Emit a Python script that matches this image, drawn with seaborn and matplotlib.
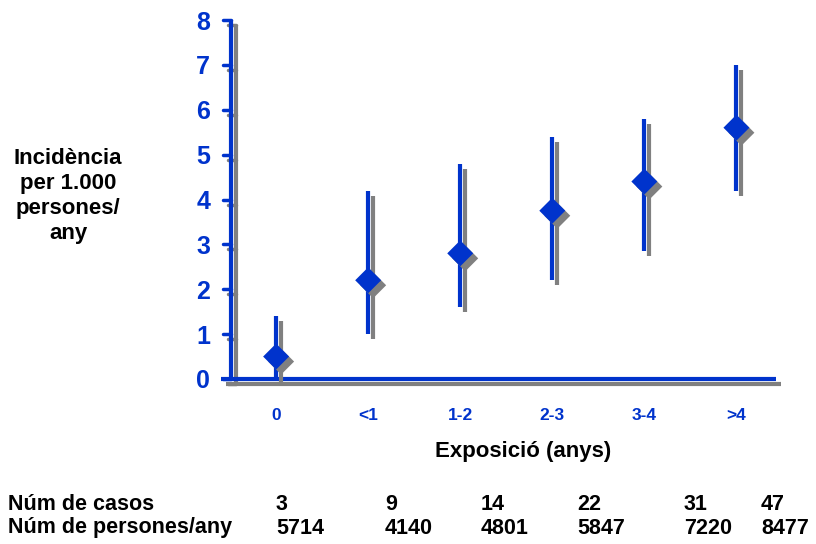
import matplotlib
matplotlib.use("Agg")
import matplotlib.pyplot as plt
import matplotlib.transforms as mtransforms
import seaborn as sns
import pandas as pd

# data
exposure = ["0", "<1", "1-2", "2-3", "3-4", ">4"]
incidence = [0.5, 2.2, 2.8, 3.75, 4.4, 5.6]
ci_low = [0.0, 1.0, 1.6, 2.2, 2.85, 4.2]
ci_high = [1.4, 4.2, 4.8, 5.4, 5.8, 7.0]
n_cases = [3, 9, 14, 22, 31, 47]
n_person_years = [5714, 4140, 4801, 5847, 7220, 8477]

BLUE = "#0033CC"
GRAY = "#808080"

sns.set_style("white")
plt.rcParams["font.family"] = ["Liberation Sans", "DejaVu Sans"]
plt.rcParams["text.color"] = "black"

df = pd.DataFrame({"pos": range(len(exposure)), "inc": incidence,
                   "lo": ci_low, "hi": ci_high})

fig = plt.figure(figsize=(8.16, 5.44), dpi=100)
ax = fig.add_axes([231 / 816, 1 - 379 / 544, (776 - 231) / 816, (379 - 20) / 544])
ax.set_xlim(-0.49, 5.43)
ax.set_ylim(0, 8)

# shadow offset (a few px right/down)
shadow = ax.transData + mtransforms.ScaledTranslation(3.6 / 72, -3.6 / 72, fig.dpi_scale_trans)
shadow_ax = ax.transAxes + mtransforms.ScaledTranslation(3.6 / 72, -3.6 / 72, fig.dpi_scale_trans)

for ax_tr, col in [(shadow_ax, GRAY), (ax.transAxes, BLUE)]:
    ax.plot([0, 0], [0, 1], color=col, lw=3, transform=ax_tr, clip_on=False, solid_capstyle="butt")
    ax.plot([-0.018, 1], [0, 0], color=col, lw=3, transform=ax_tr, clip_on=False, solid_capstyle="butt")
    for t in range(9):
        ax.plot([-0.014, 0], [t / 8, t / 8], color=col, lw=2.5, transform=ax_tr, clip_on=False)

# confidence intervals + point estimates, shadow first
for tr, col in [(shadow, GRAY), (ax.transData, BLUE)]:
    ax.vlines(df["pos"], df["lo"], df["hi"], color=col, lw=3, transform=tr, clip_on=False)
    sns.scatterplot(data=df, x="pos", y="inc", marker="D", s=175, color=col,
                    edgecolor="none", transform=tr, ax=ax, clip_on=False, zorder=3)

sns.despine(ax=ax, left=True, bottom=True)
ax.tick_params(length=0)
ax.set_yticks(range(9))
ax.set_yticklabels([str(t) for t in range(9)], color=BLUE, fontsize=18, fontweight="bold")
ax.tick_params(axis="y", pad=15)
ax.set_xticks(df["pos"])
ax.set_xticklabels(exposure, color=BLUE, fontsize=12.5, fontweight="bold")
ax.tick_params(axis="x", pad=21)
ax.set_xlabel("")
ax.set_ylabel("")

fig.text(523 / 816, 1 - 452 / 544, "Exposició (anys)", ha="center", va="center",
         fontsize=16, fontweight="bold")
fig.text(68 / 816, 1 - 196 / 544, "Incidència\nper 1.000\npersones/\nany", ha="center",
         va="center", fontsize=16, fontweight="bold", linespacing=1.25)

# table under the chart
col_x = [276, 385, 481, 577, 684, 761]
rows = [("Núm de casos", n_cases, 505), ("Núm de persones/any", n_person_years, 528)]
for label, vals, y in rows:
    fig.text(8 / 816, 1 - y / 544, label, ha="left", va="center", fontsize=15.5,
             fontweight="bold")
    for x, v in zip(col_x, vals):
        fig.text(x / 816, 1 - y / 544, str(v), ha="left", va="center", fontsize=15.5,
                 fontweight="bold")

fig.savefig("out.png", dpi=100)
